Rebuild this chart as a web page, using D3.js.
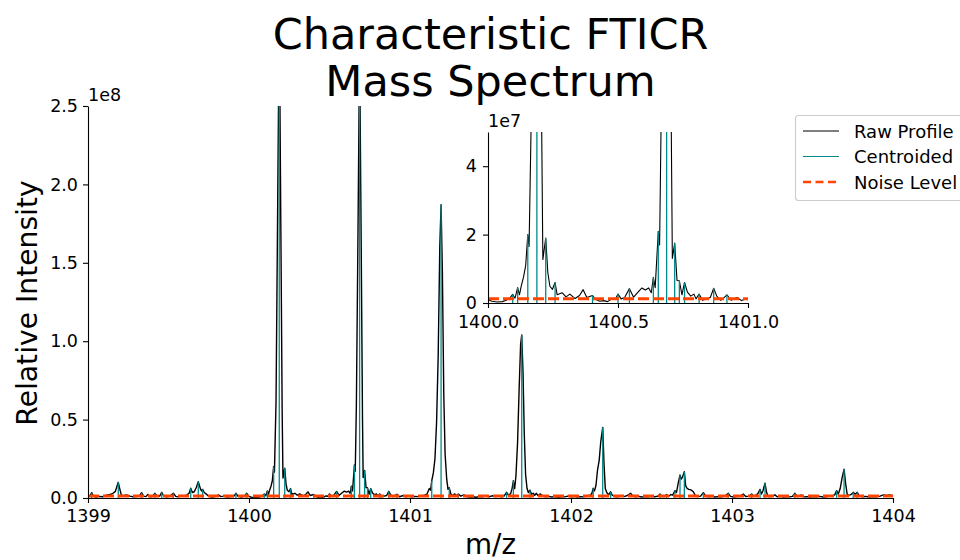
<!DOCTYPE html>
<html>
<head>
<meta charset="utf-8">
<script src="https://cdn.jsdelivr.net/npm/d3@7"></script>
<style>
body { margin: 0; background: #fff; }
text { font-family: "DejaVu Sans", sans-serif; fill: #000; }
</style>
</head>
<body>
<div id="chart"></div>
<script>
// intensities are in units of 1e6
var rawProfile = [
    [1399.000, 0.8], [1399.012, 1.2], [1399.023, 3.4], [1399.034, 1.0], [1399.050, 0.6], [1399.070, 1.0],
    [1399.090, 0.8], [1399.110, 1.6], [1399.137, 2.2], [1399.155, 3.0], [1399.170, 4.2], [1399.180, 7.5],
    [1399.188, 10.0], [1399.197, 6.0], [1399.207, 1.8], [1399.220, 1.5], [1399.240, 2.0], [1399.260, 1.2],
    [1399.280, 0.8], [1399.300, 0.9], [1399.320, 1.4], [1399.333, 3.4], [1399.345, 1.2], [1399.360, 0.9],
    [1399.372, 2.3], [1399.385, 0.8], [1399.400, 1.0], [1399.416, 3.0], [1399.430, 1.0], [1399.445, 1.2],
    [1399.458, 3.6], [1399.470, 1.3], [1399.490, 0.8], [1399.510, 1.2], [1399.530, 3.0], [1399.545, 1.0],
    [1399.560, 0.7], [1399.580, 1.6], [1399.600, 1.2], [1399.615, 2.0], [1399.628, 3.0], [1399.638, 6.2],
    [1399.648, 3.5], [1399.660, 4.0], [1399.672, 6.5], [1399.685, 10.4], [1399.698, 6.0], [1399.705, 4.5],
    [1399.712, 5.5], [1399.722, 3.5], [1399.735, 2.5], [1399.750, 1.0], [1399.770, 0.6], [1399.790, 0.9],
    [1399.810, 2.0], [1399.825, 0.9], [1399.845, 1.2], [1399.865, 0.6], [1399.885, 0.9], [1399.905, 1.0],
    [1399.919, 3.0], [1399.932, 1.0], [1399.955, 0.6], [1399.972, 1.2], [1399.986, 3.0], [1400.000, 1.0],
    [1400.015, 0.5], [1400.035, 0.3], [1400.055, 0.4], [1400.070, 0.8], [1400.082, 1.3], [1400.095, 2.5],
    [1400.104, 1.4], [1400.114, 4.5], [1400.121, 2.4], [1400.128, 5.0], [1400.137, 7.7], [1400.145, 11.0],
    [1400.153, 20.0], [1400.158, 16.5], [1400.168, 62], [1400.178, 185], [1400.188, 310], [1400.198, 170],
    [1400.206, 55], [1400.211, 12.7], [1400.222, 19.0], [1400.230, 9.0], [1400.238, 4.9], [1400.248, 4.0],
    [1400.258, 6.0], [1400.266, 2.4], [1400.285, 3.0], [1400.300, 1.8], [1400.315, 2.6], [1400.335, 1.3],
    [1400.352, 2.2], [1400.366, 3.9], [1400.380, 1.6], [1400.402, 2.2], [1400.415, 1.0], [1400.430, 0.5],
    [1400.445, 0.7], [1400.460, 0.4], [1400.478, 1.3], [1400.490, 1.1], [1400.500, 2.6], [1400.512, 1.2],
    [1400.526, 1.7], [1400.544, 4.2], [1400.560, 1.7], [1400.577, 3.2], [1400.592, 4.4], [1400.605, 3.8],
    [1400.618, 4.4], [1400.628, 3.0], [1400.636, 7.5], [1400.643, 4.5], [1400.655, 21.0], [1400.660, 17.0],
    [1400.667, 60], [1400.677, 170], [1400.687, 290], [1400.697, 160], [1400.705, 50], [1400.709, 13.0],
    [1400.718, 17.5], [1400.727, 6.6], [1400.736, 6.5], [1400.746, 2.4], [1400.756, 6.0], [1400.767, 3.2],
    [1400.780, 2.0], [1400.792, 2.6], [1400.800, 1.2], [1400.812, 2.6], [1400.825, 0.8], [1400.840, 1.2],
    [1400.855, 1.6], [1400.868, 4.3], [1400.880, 2.0], [1400.895, 0.8], [1400.907, 1.5], [1400.919, 2.4],
    [1400.935, 0.8], [1400.958, 1.6], [1400.975, 0.7], [1400.990, 1.2], [1401.010, 0.8], [1401.030, 1.0],
    [1401.050, 0.9], [1401.070, 1.3], [1401.090, 1.8], [1401.105, 2.4], [1401.120, 6.0], [1401.128, 5.0],
    [1401.135, 11.0], [1401.145, 16], [1401.155, 25], [1401.165, 48], [1401.175, 90], [1401.185, 160],
    [1401.193, 187], [1401.201, 145], [1401.210, 65], [1401.218, 28], [1401.228, 12.0], [1401.236, 5.5],
    [1401.244, 6.5], [1401.254, 2.5], [1401.265, 1.6], [1401.278, 2.6], [1401.290, 1.5], [1401.300, 2.5],
    [1401.315, 1.2], [1401.335, 2.0], [1401.350, 0.9], [1401.370, 0.6], [1401.390, 0.8], [1401.410, 0.5],
    [1401.430, 0.9], [1401.450, 0.7], [1401.470, 1.2], [1401.490, 0.8], [1401.510, 1.4], [1401.530, 0.9],
    [1401.550, 1.2], [1401.570, 0.8], [1401.585, 1.3], [1401.600, 3.6], [1401.612, 1.6], [1401.625, 2.8],
    [1401.634, 6.0], [1401.642, 11.0], [1401.650, 6.0], [1401.658, 14], [1401.668, 35], [1401.678, 70],
    [1401.687, 98], [1401.694, 104], [1401.702, 80], [1401.710, 40], [1401.718, 15], [1401.727, 6.0],
    [1401.735, 3.5], [1401.745, 5.0], [1401.755, 2.4], [1401.765, 3.0], [1401.775, 1.8], [1401.785, 3.0],
    [1401.795, 1.5], [1401.810, 2.6], [1401.825, 1.2], [1401.840, 0.8], [1401.860, 1.0], [1401.880, 0.6],
    [1401.900, 0.9], [1401.920, 0.5], [1401.940, 0.8], [1401.960, 0.7], [1401.980, 1.2], [1402.000, 0.8],
    [1402.020, 1.0], [1402.040, 0.6], [1402.060, 0.9], [1402.080, 0.7], [1402.100, 1.4], [1402.120, 1.8],
    [1402.130, 3.0], [1402.138, 6.2], [1402.146, 4.5], [1402.155, 8.0], [1402.165, 18], [1402.175, 24],
    [1402.185, 36], [1402.197, 45], [1402.205, 22], [1402.213, 6.0], [1402.222, 3.5], [1402.234, 2.0],
    [1402.246, 4.0], [1402.256, 1.8], [1402.270, 1.0], [1402.290, 0.8], [1402.310, 1.2], [1402.330, 0.9],
    [1402.350, 1.6], [1402.370, 3.0], [1402.385, 1.2], [1402.400, 0.7], [1402.420, 1.0], [1402.440, 0.6],
    [1402.460, 0.9], [1402.480, 0.7], [1402.500, 1.0], [1402.520, 0.8], [1402.538, 1.1], [1402.553, 2.5],
    [1402.565, 0.9], [1402.580, 1.0], [1402.594, 2.2], [1402.605, 0.9], [1402.620, 2.2], [1402.632, 1.8],
    [1402.646, 4.7], [1402.655, 3.5], [1402.665, 9.0], [1402.677, 14.7], [1402.684, 12.0], [1402.691, 13.0],
    [1402.704, 16.8], [1402.712, 8.0], [1402.718, 6.6], [1402.730, 5.5], [1402.745, 5.2], [1402.760, 4.0],
    [1402.772, 1.5], [1402.785, 1.0], [1402.805, 1.2], [1402.822, 3.4], [1402.838, 1.0], [1402.855, 0.7],
    [1402.875, 1.0], [1402.895, 0.6], [1402.915, 0.9], [1402.935, 0.7], [1402.958, 1.2], [1402.977, 3.0],
    [1402.990, 1.0], [1403.010, 0.6], [1403.030, 0.9], [1403.050, 1.1], [1403.070, 2.5], [1403.085, 1.0],
    [1403.105, 1.2], [1403.122, 2.5], [1403.135, 1.2], [1403.150, 1.8], [1403.162, 3.0], [1403.174, 5.5],
    [1403.183, 2.5], [1403.192, 4.5], [1403.205, 9.4], [1403.215, 3.5], [1403.225, 1.0], [1403.240, 0.9],
    [1403.255, 1.4], [1403.267, 2.0], [1403.280, 0.8], [1403.300, 1.0], [1403.320, 0.6], [1403.340, 0.9],
    [1403.360, 0.7], [1403.375, 1.0], [1403.391, 3.0], [1403.405, 1.0], [1403.420, 1.2], [1403.433, 2.0],
    [1403.445, 0.7], [1403.465, 0.9], [1403.485, 0.6], [1403.505, 0.9], [1403.525, 0.7], [1403.545, 1.0],
    [1403.565, 0.6], [1403.585, 0.8], [1403.605, 1.2], [1403.625, 1.5], [1403.638, 2.0], [1403.650, 4.7],
    [1403.660, 2.5], [1403.672, 6.0], [1403.684, 13.0], [1403.696, 18.3], [1403.706, 9.0], [1403.715, 2.6],
    [1403.723, 1.8], [1403.735, 2.0], [1403.745, 2.6], [1403.753, 3.6], [1403.765, 2.4], [1403.778, 3.6],
    [1403.790, 1.2], [1403.810, 0.8], [1403.830, 1.0], [1403.850, 0.6], [1403.870, 0.9], [1403.895, 0.7],
    [1403.920, 1.2], [1403.940, 2.0], [1403.960, 1.6], [1403.980, 2.0], [1404.000, 1.5]
];

// centroided peaks: [m/z, intensity in 1e6]
var centroids = [
    [1399.023, 3.4], [1399.188, 10.0], [1399.333, 3.4], [1399.416, 3.0], [1399.458, 3.6], [1399.530, 3.0],
    [1399.638, 6.2], [1399.685, 10.4], [1399.712, 5.5], [1399.919, 3.0], [1399.986, 3.0], [1400.095, 2.5],
    [1400.114, 4.5], [1400.153, 20.0], [1400.188, 310], [1400.222, 19.0], [1400.258, 6.0], [1400.402, 2.2],
    [1400.500, 2.6], [1400.544, 4.2], [1400.636, 7.5], [1400.655, 21.0], [1400.687, 290], [1400.718, 17.5],
    [1400.736, 6.5], [1400.756, 6.0], [1400.812, 2.6], [1400.868, 4.3], [1400.919, 2.4], [1401.135, 11.0],
    [1401.193, 187], [1401.244, 6.5], [1401.300, 2.5], [1401.600, 3.6], [1401.642, 11.0], [1401.694, 104],
    [1401.745, 5.0], [1402.138, 6.2], [1402.197, 45], [1402.246, 4.0], [1402.553, 2.5], [1402.594, 2.2],
    [1402.646, 4.7], [1402.677, 14.7], [1402.704, 16.8], [1402.822, 3.4], [1402.977, 3.0], [1403.122, 2.5],
    [1403.174, 5.5], [1403.205, 9.4], [1403.391, 3.0], [1403.650, 4.7], [1403.696, 18.3], [1403.753, 3.6],
    [1403.778, 3.6]
];

var noiseLevel = 1.25;

var mainXTicks = [1399, 1400, 1401, 1402, 1403, 1404];
var mainYTicks = [0, 50, 100, 150, 200, 250];
var insetXTicks = [1400.0, 1400.5, 1401.0];
var insetYTicks = [0, 20, 40];
var legendLabels = ["Raw Profile", "Centroided", "Noise Level"];

var rawColor = "#000000",
    centroidColor = "#008b8b",
    noiseColor = "#ff4500";

function program() {

    //step 1: the svg
    var width = 960,
        height = 560;

    var svg = d3.select("#chart")
        .append("svg")
        .attr("width", width)
        .attr("height", height);

    //step 2: main scales
    var x = d3.scaleLinear()
        .domain([1399, 1404])
        .range([88, 893]);

    var y = d3.scaleLinear()
        .domain([0, 250])
        .range([498, 106]);

    //step 3: draw spectrum into a clipped group
    function drawSpectrum(g, xs, ys, clipId, lw) {
        var xr = xs.range(), yr = ys.range();
        svg.append("clipPath").attr("id", clipId)
            .append("rect")
            .attr("x", xr[0]).attr("y", yr[1])
            .attr("width", xr[1] - xr[0]).attr("height", yr[0] - yr[1]);

        var inner = g.append("g").attr("clip-path", "url(#" + clipId + ")");

        var line = d3.line()
            .x(function(d) { return xs(d[0]); })
            .y(function(d) { return ys(d[1]); });

        inner.append("path")
            .datum(rawProfile)
            .attr("d", line)
            .attr("fill", "none")
            .attr("stroke", rawColor)
            .attr("stroke-width", lw)
            .attr("stroke-linejoin", "round");

        inner.selectAll("line.stem")
            .data(centroids)
            .join("line")
            .attr("class", "stem")
            .attr("x1", function(d) { return xs(d[0]); })
            .attr("x2", function(d) { return xs(d[0]); })
            .attr("y1", ys(0))
            .attr("y2", function(d) { return ys(d[1]); })
            .attr("stroke", centroidColor)
            .attr("stroke-width", 1.3);

        inner.append("line")
            .attr("x1", xr[0]).attr("x2", xr[1])
            .attr("y1", ys(noiseLevel)).attr("y2", ys(noiseLevel))
            .attr("stroke", noiseColor)
            .attr("stroke-width", 3)
            .attr("stroke-dasharray", "11,4");
    }

    function styleAxis(g, size) {
        g.attr("font-family", "DejaVu Sans, sans-serif").attr("font-size", size);
        g.select(".domain").attr("stroke", "#000").attr("stroke-width", 1.1);
        g.selectAll(".tick line").attr("stroke", "#000").attr("stroke-width", 1.1);
        g.selectAll(".tick text").attr("fill", "#000");
    }

    var main = svg.append("g");
    drawSpectrum(main, x, y, "clipMain", 1.4);

    var xAxis = svg.append("g")
        .attr("transform", "translate(0,498)")
        .call(d3.axisBottom(x).tickValues(mainXTicks).tickFormat(d3.format("d"))
            .tickSize(5).tickSizeOuter(0).tickPadding(7));
    styleAxis(xAxis, 17.5);

    var yAxis = svg.append("g")
        .attr("transform", "translate(88,0)")
        .call(d3.axisLeft(y).tickValues(mainYTicks).tickFormat(function(d) { return (d / 100).toFixed(1); })
            .tickSize(5).tickSizeOuter(0).tickPadding(5));
    styleAxis(yAxis, 17.5);

    svg.append("text")
        .attr("x", 88).attr("y", 101)
        .attr("font-size", 17.5)
        .text("1e8");

    //step 4: titles and labels
    var title = svg.append("text")
        .attr("text-anchor", "middle")
        .attr("font-size", 43);
    title.append("tspan").attr("x", 490.5).attr("y", 49).text("Characteristic FTICR");
    title.append("tspan").attr("x", 490.5).attr("y", 96).text("Mass Spectrum");

    svg.append("text")
        .attr("x", 490.5).attr("y", 554)
        .attr("text-anchor", "middle")
        .attr("font-size", 27.8)
        .text("m/z");

    svg.append("text")
        .attr("transform", "translate(37,303) rotate(-90)")
        .attr("text-anchor", "middle")
        .attr("font-size", 28.2)
        .text("Relative Intensity");

    //step 5: inset zoom on 1400-1401
    var xi = d3.scaleLinear()
        .domain([1400, 1401])
        .range([488, 748]);

    var yi = d3.scaleLinear()
        .domain([0, 50])
        .range([303, 132]);

    var inset = svg.append("g");
    inset.append("rect")
        .attr("x", 488).attr("y", 132)
        .attr("width", 260).attr("height", 171)
        .attr("fill", "#fff");
    drawSpectrum(inset, xi, yi, "clipInset", 1.1);

    var xiAxis = svg.append("g")
        .attr("transform", "translate(0,303)")
        .call(d3.axisBottom(xi).tickValues(insetXTicks).tickFormat(d3.format(".1f"))
            .tickSize(5).tickSizeOuter(0).tickPadding(8));
    styleAxis(xiAxis, 17.5);

    var yiAxis = svg.append("g")
        .attr("transform", "translate(488,0)")
        .call(d3.axisLeft(yi).tickValues(insetYTicks).tickFormat(function(d) { return d / 10; })
            .tickSize(5).tickSizeOuter(0).tickPadding(6));
    styleAxis(yiAxis, 17.5);

    svg.append("text")
        .attr("x", 488).attr("y", 127)
        .attr("font-size", 17.5)
        .text("1e7");

    //step 6: legend (runs off the right edge like the original)
    var legend = svg.append("g");
    legend.append("rect")
        .attr("x", 795.5).attr("y", 115.5)
        .attr("width", 190).attr("height", 85)
        .attr("rx", 3)
        .attr("fill", "#fff").attr("fill-opacity", 0.8)
        .attr("stroke", "#cccccc").attr("stroke-width", 1.1);

    var legendStyles = [
        { color: rawColor, width: 1.2, dash: null },
        { color: centroidColor, width: 1.2, dash: null },
        { color: noiseColor, width: 2.6, dash: "8,4.5" }
    ];

    legend.selectAll("g.item")
        .data(legendLabels)
        .join("g")
        .attr("class", "item")
        .attr("transform", function(d, i) { return "translate(0," + (131 + i * 25.5) + ")"; })
        .each(function(d, i) {
            var item = d3.select(this);
            item.append("line")
                .attr("x1", 803).attr("x2", 839)
                .attr("stroke", legendStyles[i].color)
                .attr("stroke-width", legendStyles[i].width)
                .attr("stroke-dasharray", legendStyles[i].dash);
            item.append("text")
                .attr("x", 854).attr("y", 6.5)
                .attr("font-size", 18)
                .text(d);
        });
}

program();
</script>
</body>
</html>
